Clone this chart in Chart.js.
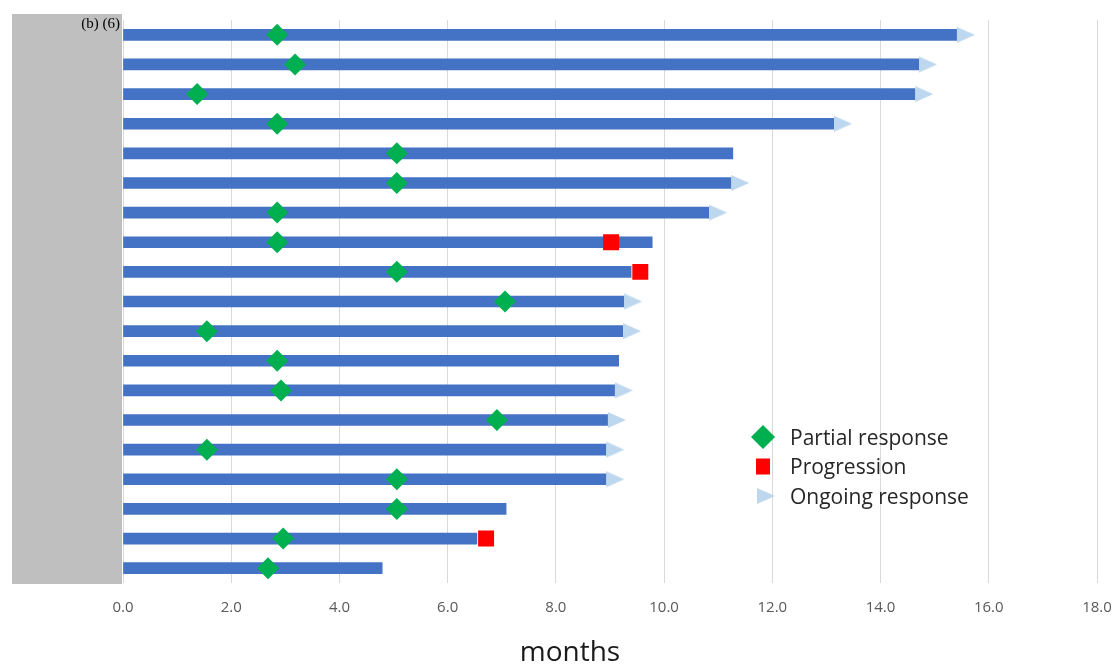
<!DOCTYPE html>
<html>
<head>
<meta charset="utf-8">
<script src="https://cdn.jsdelivr.net/npm/chart.js@4.4.1/dist/chart.umd.min.js"></script>
<style>
  html, body { margin: 0; padding: 0; background: #ffffff; }
  #wrap { width: 1116px; height: 664px; position: relative; }
</style>
</head>
<body>
<div id="wrap"><canvas id="swimmer" width="1116" height="664"></canvas></div>
<script>
// One row per patient, longest follow-up at the top
const patients = ['1','2','3','4','5','6','7','8','9','10','11','12','13','14','15','16','17','18','19'];

// Months on treatment
const durations = [15.41, 14.71, 14.64, 13.14, 11.27, 11.24, 10.83, 9.78, 9.39, 9.26, 9.24, 9.16, 9.09, 8.96, 8.93, 8.93, 7.08, 6.54, 4.79];

// Month of first partial response
const partialResponse = [2.85, 3.18, 1.37, 2.85, 5.06, 5.06, 2.85, 2.85, 5.06, 7.06, 1.55, 2.85, 2.92, 6.91, 1.55, 5.06, 5.06, 2.96, 2.68];

// Month of progression (null = no progression)
const progression = [null, null, null, null, null, null, null, 9.02, 9.56, null, null, null, null, null, null, null, null, 6.71, null];

// Response still ongoing at data cut-off
const ongoing = [true, true, true, true, false, true, true, false, false, true, true, false, true, true, true, true, false, false, false];

// Axis ticks
const monthTicks = [0, 2, 4, 6, 8, 10, 12, 14, 16, 18];

const BAR_BLUE = '#4472C4';
const PR_GREEN = '#00B050';
const PD_RED = '#FF0000';
const ARROW_BLUE = '#BDD7EE';

// Arrow marker: triangle drawn in the right half so it starts at the bar end
function makeArrow() {
  const c = document.createElement('canvas');
  c.width = 38; c.height = 18;
  const g = c.getContext('2d');
  g.fillStyle = ARROW_BLUE;
  g.beginPath();
  g.moveTo(19, 1);
  g.lineTo(37, 9);
  g.lineTo(19, 17);
  g.closePath();
  g.fill();
  return c;
}
const arrowImg = makeArrow();

const toPoints = (vals) => vals
  .map((v, i) => (v === null ? null : { x: v, y: patients[i] }))
  .filter(p => p !== null);

const arrowPoints = durations
  .map((d, i) => (ongoing[i] ? { x: d, y: patients[i] } : null))
  .filter(p => p !== null);

// Grey row-header panel with the figure tag
const sidePanel = {
  id: 'sidePanel',
  beforeDraw(chart) {
    const { ctx, chartArea } = chart;
    ctx.save();
    ctx.fillStyle = '#BFBFBF';
    ctx.fillRect(chartArea.left - 111, chartArea.top - 6, 110, chartArea.bottom - chartArea.top + 7);
    ctx.fillStyle = '#000000';
    ctx.font = '15px "Liberation Serif", "DejaVu Serif", serif';
    ctx.textAlign = 'right';
    ctx.textBaseline = 'alphabetic';
    ctx.fillText('(b) (6)', chartArea.left - 3, chartArea.top + 8);
    ctx.restore();
  }
};

// Legend inside the plot area and the x-axis caption
const markerLegend = {
  id: 'markerLegend',
  afterDraw(chart) {
    const { ctx, chartArea } = chart;
    const mx = chartArea.left + 640;
    const tx = chartArea.left + 667;
    const rows = [chartArea.top + 417, chartArea.top + 446.5, chartArea.top + 476];
    ctx.save();
    // diamond
    ctx.fillStyle = PR_GREEN;
    ctx.beginPath();
    ctx.moveTo(mx - 12, rows[0]);
    ctx.lineTo(mx, rows[0] - 12);
    ctx.lineTo(mx + 12, rows[0]);
    ctx.lineTo(mx, rows[0] + 12);
    ctx.closePath();
    ctx.fill();
    // square
    ctx.fillStyle = PD_RED;
    ctx.fillRect(mx - 7, rows[1] - 8, 14, 16);
    // arrow
    ctx.drawImage(arrowImg, mx - 25, rows[2] - 9);
    // labels
    ctx.fillStyle = '#262626';
    ctx.font = '21px "Open Sans", "Noto Sans", sans-serif';
    ctx.textAlign = 'left';
    ctx.textBaseline = 'middle';
    ctx.fillText('Partial response', tx, rows[0] + 2);
    ctx.fillText('Progression', tx, rows[1] + 2);
    ctx.fillText('Ongoing response', tx, rows[2] + 2);

    // axis caption
    ctx.fillStyle = '#1a1a1a';
    ctx.font = '28px "Open Sans", "Noto Sans", sans-serif';
    ctx.textAlign = 'center';
    ctx.textBaseline = 'alphabetic';
    ctx.fillText('months', chartArea.left + 447, chart.height - 3);
    ctx.restore();
  }
};

new Chart(document.getElementById('swimmer'), {
  type: 'bar',
  data: {
    labels: patients,
    datasets: [
      {
        type: 'bar',
        label: 'Treatment duration',
        data: durations,
        backgroundColor: BAR_BLUE,
        borderWidth: 0,
        barThickness: 11,
        order: 4
      },
      {
        type: 'line',
        label: 'Ongoing response',
        indexAxis: 'y',
        data: arrowPoints,
        showLine: false,
        pointStyle: arrowImg,
        pointRadius: 9,
        order: 3
      },
      {
        type: 'line',
        label: 'Partial response',
        indexAxis: 'y',
        data: toPoints(partialResponse),
        showLine: false,
        pointStyle: 'rectRot',
        pointRadius: 11,
        pointBackgroundColor: PR_GREEN,
        pointBorderWidth: 0,
        pointBorderColor: PR_GREEN,
        order: 2
      },
      {
        type: 'line',
        label: 'Progression',
        indexAxis: 'y',
        data: toPoints(progression),
        showLine: false,
        pointStyle: 'rect',
        pointRadius: 11.3,
        pointBackgroundColor: PD_RED,
        pointBorderWidth: 0,
        pointBorderColor: PD_RED,
        order: 1
      }
    ]
  },
  options: {
    indexAxis: 'y',
    responsive: false,
    animation: false,
    devicePixelRatio: 1,
    events: [],
    layout: { padding: { left: 123, right: 19, top: 20, bottom: 31 } },
    plugins: {
      legend: { display: false },
      tooltip: { enabled: false }
    },
    scales: {
      y: {
        type: 'category',
        display: false,
        offset: true
      },
      x: {
        type: 'linear',
        min: monthTicks[0],
        max: monthTicks[monthTicks.length - 1],
        afterBuildTicks(scale) {
          scale.ticks = monthTicks.map(v => ({ value: v }));
        },
        afterFit(scale) {
          // the outer padding already leaves room for the end labels
          scale.paddingLeft = 0;
          scale.paddingRight = 0;
        },
        ticks: {
          padding: 16,
          color: '#595959',
          font: { family: '"Open Sans", "Noto Sans", sans-serif', size: 15 },
          callback: (v) => Number(v).toFixed(1)
        },
        grid: {
          color: '#D9D9D9',
          lineWidth: 1,
          drawTicks: false
        },
        border: { display: false },
        title: { display: false }
      }
    }
  },
  plugins: [sidePanel, markerLegend]
});
</script>
</body>
</html>
